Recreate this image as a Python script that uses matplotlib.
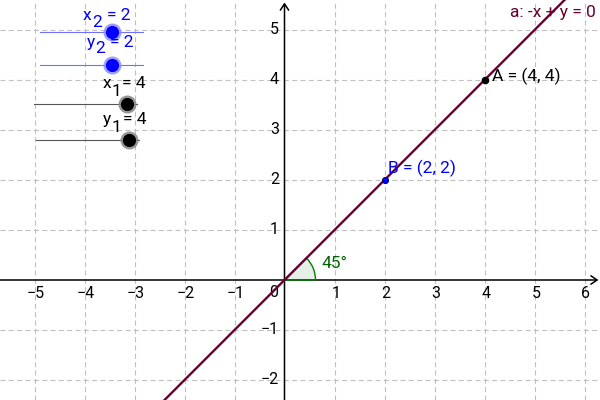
import numpy as np
import matplotlib
matplotlib.use("Agg")
import matplotlib.pyplot as plt
from matplotlib.patches import Wedge

plt.rcParams['font.family'] = ['Roboto', 'DejaVu Sans']

# line a: -x + y = 0  ->  y = slope * x
line_label = "a: -x + y = 0"
slope = 1.0

# sliders (GeoGebra default range -5..5)
slider_letters = ["x", "y", "x", "y"]
slider_subs = ["2", "2", "1", "1"]
slider_values = [2, 2, 4, 4]
slider_colors = ["#0000ff", "#0000ff", "black", "black"]
slider_min, slider_max = -5, 5

# points
point_A = (slider_values[2], slider_values[3])
point_B = (slider_values[0], slider_values[1])
angle_deg = 45

x_ticks = [-5, -4, -3, -2, -1, 1, 2, 3, 4, 5, 6]
y_ticks = [-2, -1, 1, 2, 3, 4, 5]
grid_x = [-5, -4, -3, -2, -1, 1, 2, 3, 4, 5, 6]
grid_y = [-2, -1, 1, 2, 3, 4, 5]

W, H = 600, 400
fig = plt.figure(figsize=(6, 4), dpi=100)
ax = fig.add_axes([0, 0, 1, 1])
ax.set_xlim(-5.69, 6.31)
ax.set_ylim(-2.4, 5.6)
ax.axis("off")


def scr(px, py):
    # screen pixel -> axes fraction
    return px / W, 1 - py / H


# grid
for gx in grid_x:
    ax.axvline(gx, color="#c0c0c0", lw=0.8, dashes=(4.5, 3), zorder=1)
for gy in grid_y:
    ax.axhline(gy, color="#c0c0c0", lw=0.8, dashes=(4.5, 3), zorder=1)

# axes with arrow heads
arrow = dict(arrowstyle="->,head_length=0.45,head_width=0.3", color="black", lw=1.1,
             shrinkA=0, shrinkB=0)
ax.annotate("", xy=(6.28, 0), xytext=(-5.7, 0), arrowprops=arrow, zorder=2)
ax.annotate("", xy=(0, 5.55), xytext=(0, -2.41), arrowprops=arrow, zorder=2)

# tick labels
for t in x_ticks:
    lab = str(t).replace("-", "\u2212")
    ax.text(t + 0.03, -0.26, lab, ha="center", va="center", fontsize=11.5, zorder=3)
for t in y_ticks:
    lab = str(t).replace("-", "\u2212")
    ax.text(-0.11, t, lab, ha="right", va="center", fontsize=11.5, zorder=3)
ax.text(-0.22, -0.25, "0", ha="center", va="center", fontsize=11.5, zorder=3)

# line a
xs = np.array([-5.69, 6.31])
line_col = "#660033"
ax.plot(xs, slope * xs, color=line_col, lw=1.7, zorder=4)
ax.text(*scr(596, 12), line_label, transform=ax.transAxes, ha="right", va="center",
        fontsize=12.5, color=line_col, zorder=5)

# angle sector
ax.add_patch(Wedge((0, 0), 0.62, 0, angle_deg, facecolor="#006400", alpha=0.1, zorder=3))
ax.add_patch(Wedge((0, 0), 0.62, 0, angle_deg, facecolor="none", edgecolor="#008000",
                   lw=1.0, zorder=3))
ax.text(0.73, 0.32, f"{angle_deg}°", color="#006400", fontsize=12.5, ha="left",
        va="center", zorder=5)

# points A and B
ax.plot(*point_A, "o", color="black", ms=4.5, zorder=6)
ax.text(point_A[0] + 0.15, point_A[1] + 0.07, f"A = ({point_A[0]}, {point_A[1]})",
        fontsize=12.5, ha="left", va="center", color="black", zorder=6)
ax.plot(*point_B, "o", color="#0000ff", mec="#000033", mew=0.6, ms=4.5, zorder=6)
ax.text(point_B[0] + 0.08, point_B[1] + 0.24, f"B = ({point_B[0]}, {point_B[1]})",
        fontsize=12.5, ha="left", va="center", color="#0000ff", zorder=6)

# sliders (screen positions)
slider_left = [40, 40, 34, 36]
slider_y = [32, 65, 104, 140]
slider_len = 103
# letter x, baseline, subscript x, subscript baseline, "= v" x
label_pos = [(83, 20, 92, 27, 107),
             (87, 47, 95, 53, 110),
             (103, 88, 112, 96, 122),
             (103, 124, 112, 132, 123)]
for let, sub, val, col, lx, ly, (tx, tb, sx, sb, ex) in zip(
        slider_letters, slider_subs, slider_values, slider_colors,
        slider_left, slider_y, label_pos):
    line_c = "#7070ff" if col != "black" else "#555555"
    halo_c = "#9090ff" if col != "black" else "#888888"
    x0, y0 = scr(lx, ly)
    x1, _ = scr(lx + slider_len, ly)
    ax.plot([x0, x1], [y0, y0], color=line_c, lw=0.8, transform=ax.transAxes, zorder=5)
    px = lx + (val - slider_min) / (slider_max - slider_min) * slider_len
    hx, hy = scr(px, ly)
    ax.plot(hx, hy, "o", ms=12, color=halo_c, alpha=0.8, transform=ax.transAxes, zorder=6)
    ax.plot(hx, hy, "o", ms=8.5, color=col, mec=col, transform=ax.transAxes, zorder=7)
    kw = dict(transform=ax.transAxes, ha="left", va="baseline", fontsize=12.5,
              color=col, zorder=8)
    ax.text(*scr(tx, tb), let, **kw)
    ax.text(*scr(sx, sb), sub, **kw)
    ax.text(*scr(ex, tb), f"= {val}", **kw)

fig.savefig("out.png", dpi=100)
